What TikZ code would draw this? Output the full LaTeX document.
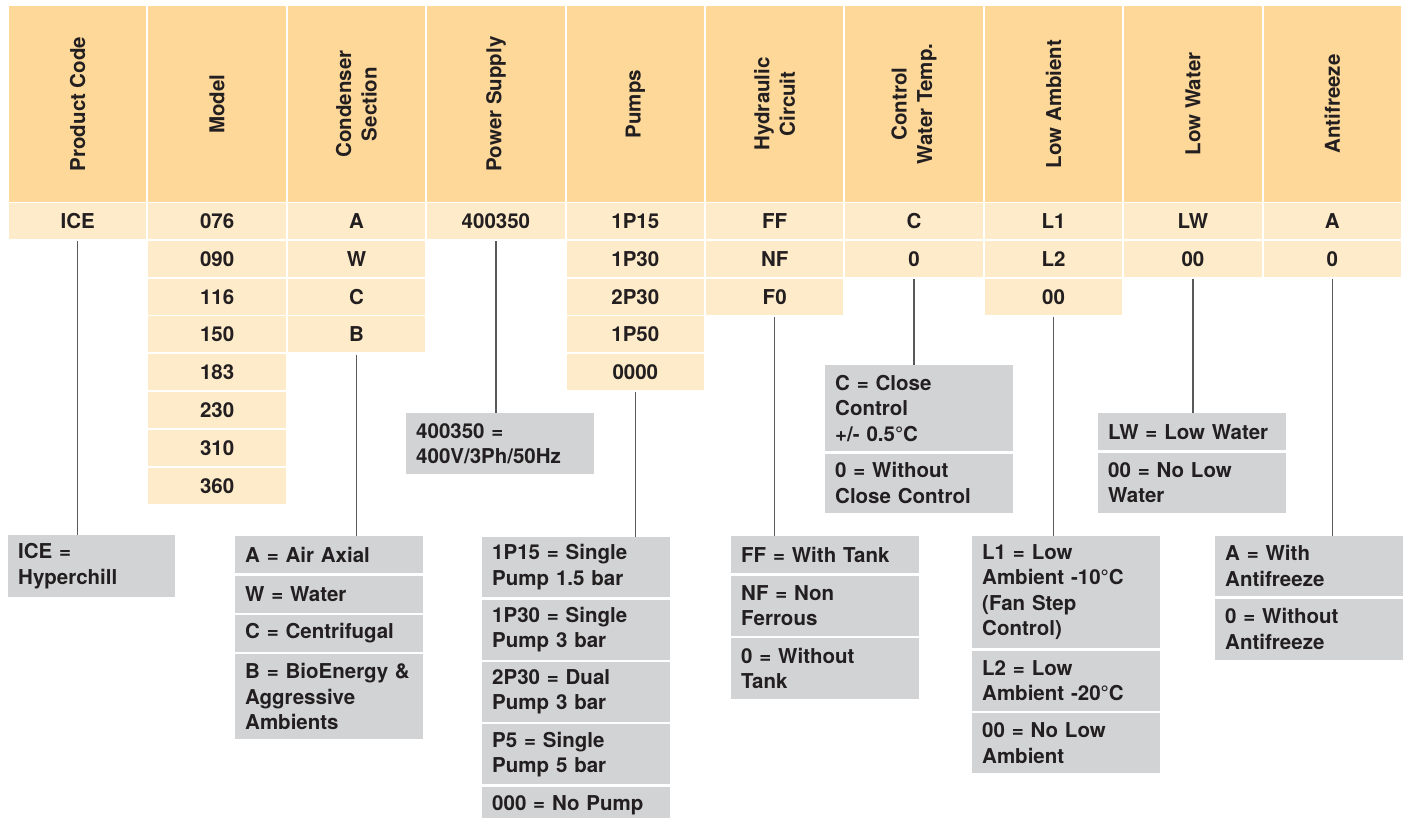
\documentclass[tikz,border=0pt]{standalone}
\usepackage{fontspec}
\setmainfont{TeX Gyre Heros}
\usepackage{xcolor}
\usetikzlibrary{positioning}
\definecolor{hdrorange}{HTML}{FDD899}
\definecolor{rowcream}{HTML}{FEEBC9}
\definecolor{keygray}{HTML}{D1D3D4}
\definecolor{inkdark}{HTML}{231F20}
\definecolor{linegray}{HTML}{58595B}
\newcommand{\keyfont}{\fontsize{20.5}{25.5}\selectfont\bfseries}

\begin{document}
\begin{tikzpicture}[x=1pt, y=-1pt,
  head/.style={fill=hdrorange, rotate=90, minimum width=196pt,
    minimum height=137.4pt, inner sep=0pt, align=center,
    font=\keyfont, text=inkdark},
  cell/.style={fill=rowcream, minimum width=137.4pt, minimum height=36pt,
    inner sep=0pt, text height=15pt, text depth=0pt,
    font=\keyfont, text=inkdark},
  key/.style={fill=keygray, minimum height=#1, text width=168pt,
    inner xsep=10pt, inner ysep=4pt, align=left,
    font=\keyfont, text=inkdark},
  key/.default=37pt,
  conn/.style={draw=linegray, line width=1.3pt},
  node distance=2pt
]
  \useasboundingbox (0,0) rectangle (1408,818);

  % Headers
  \node[head] (hpc) at (77.7, 104)   {Product Code};
  \node[head] (hmo) at (217.1, 104)  {Model};
  \node[head] (hcs) at (356.5, 104)  {Condenser\\Section};
  \node[head] (hps) at (495.9, 104)  {Power Supply};
  \node[head] (hpu) at (635.3, 104)  {Pumps};
  \node[head] (hhc) at (774.7, 104)  {Hydraulic\\Circuit};
  \node[head] (hcw) at (914.1, 104)  {Control\\Water Temp.};
  \node[head] (hla) at (1053.5, 104) {Low Ambient};
  \node[head] (hlw) at (1192.9, 104) {Low Water};
  \node[head] (haf) at (1332.3, 104) {Antifreeze};

  % Product code
  \node[cell] (pc1) at (77.7, 221) {ICE};

  % Model
  \node[cell] (mo1) at (217.1, 221)   {076};
  \node[cell] (mo2) at (217.1, 258.8) {090};
  \node[cell] (mo3) at (217.1, 296.6) {116};
  \node[cell] (mo4) at (217.1, 334.4) {150};
  \node[cell] (mo5) at (217.1, 372.2) {183};
  \node[cell] (mo6) at (217.1, 410)   {230};
  \node[cell] (mo7) at (217.1, 447.8) {310};
  \node[cell] (mo8) at (217.1, 485.6) {360};

  % Condenser section
  \node[cell] (cs1) at (356.5, 221)   {A};
  \node[cell] (cs2) at (356.5, 258.8) {W};
  \node[cell] (cs3) at (356.5, 296.6) {C};
  \node[cell] (cs4) at (356.5, 334.4) {B};

  % Power supply
  \node[cell] (ps1) at (495.9, 221) {400350};

  % Pumps
  \node[cell] (pu1) at (635.3, 221)   {1P15};
  \node[cell] (pu2) at (635.3, 258.8) {1P30};
  \node[cell] (pu3) at (635.3, 296.6) {2P30};
  \node[cell] (pu4) at (635.3, 334.4) {1P50};
  \node[cell] (pu5) at (635.3, 372.2) {0000};

  % Hydraulic circuit
  \node[cell] (hc1) at (774.7, 221)   {FF};
  \node[cell] (hc2) at (774.7, 258.8) {NF};
  \node[cell] (hc3) at (774.7, 296.6) {F0};

  % Control water temp.
  \node[cell] (cw1) at (914.1, 221)   {C};
  \node[cell] (cw2) at (914.1, 258.8) {0};

  % Low ambient
  \node[cell] (la1) at (1053.5, 221)   {L1};
  \node[cell] (la2) at (1053.5, 258.8) {L2};
  \node[cell] (la3) at (1053.5, 296.6) {00};

  % Low water
  \node[cell] (lw1) at (1192.9, 221)   {LW};
  \node[cell] (lw2) at (1192.9, 258.8) {00};

  % Antifreeze
  \node[cell] (af1) at (1332.3, 221)   {A};
  \node[cell] (af2) at (1332.3, 258.8) {0};

  % Key boxes
  \node[key=62pt, text width=147pt, anchor=north west] (pck1) at (8, 535)
    {ICE =\\Hyperchill};

  \node[key, anchor=north west] (csk1) at (235, 536) {A = Air Axial};
  \node[key, below=of csk1] (csk2) {W = Water};
  \node[key, below=of csk2] (csk3) {C = Centrifugal};
  \node[key=85pt, below=of csk3] (csk4)
    {B = BioEnergy \&\\Aggressive\\Ambients};

  \node[key=61pt, anchor=north west] (psk1) at (406, 413)
    {400350 =\\400V/3Ph/50Hz};

  \node[key=60pt, anchor=north west] (puk1) at (482, 537)
    {1P15 = Single\\Pump 1.5 bar};
  \node[key=60pt, below=of puk1] (puk2) {1P30 = Single\\Pump 3 bar};
  \node[key=60pt, below=of puk2] (puk3) {2P30 = Dual\\Pump 3 bar};
  \node[key=60pt, below=of puk3] (puk4) {P5 = Single\\Pump 5 bar};
  \node[key, below=of puk4] (puk5) {000 = No Pump};

  \node[key, anchor=north west] (hck1) at (731, 536) {FF = With Tank};
  \node[key=60pt, below=of hck1] (hck2) {NF = Non\\Ferrous};
  \node[key=61pt, below=of hck2] (hck3) {0 = Without\\Tank};

  \node[key=86pt, anchor=north west] (cwk1) at (825, 365)
    {C = Close\\Control\\+/- 0.5°C};
  \node[key=59pt, below=of cwk1] (cwk2) {0 = Without\\Close Control};

  \node[key=112pt, anchor=north west] (lak1) at (972, 536)
    {L1 = Low\\Ambient -10°C\\(Fan Step\\Control)};
  \node[key=60pt, below=of lak1] (lak2) {L2 = Low\\Ambient -20°C};
  \node[key=60pt, below=of lak2] (lak3) {00 = No Low\\Ambient};

  \node[key, anchor=north west] (lwk1) at (1098, 413) {LW = Low Water};
  \node[key=60pt, below=of lwk1] (lwk2) {00 = No Low\\Water};

  \node[key=60pt, anchor=north west] (afk1) at (1215, 536)
    {A = With\\Antifreeze};
  \node[key=61pt, below=of afk1] (afk2) {0 = Without\\Antifreeze};

  % Connectors
  \draw[conn] ([yshift=-2pt]pc1.south) -- (pc1.south |- pck1.north);
  \draw[conn] ([yshift=-2pt]cs4.south) -- (cs4.south |- csk1.north);
  \draw[conn] ([yshift=-2pt]ps1.south) -- (ps1.south |- psk1.north);
  \draw[conn] ([yshift=-2pt]pu5.south) -- (pu5.south |- puk1.north);
  \draw[conn] ([yshift=-2pt]hc3.south) -- (hc3.south |- hck1.north);
  \draw[conn] ([yshift=-2pt]cw2.south) -- (cw2.south |- cwk1.north);
  \draw[conn] ([yshift=-2pt]la3.south) -- (la3.south |- lak1.north);
  \draw[conn] ([yshift=-2pt]lw2.south) -- (lw2.south |- lwk1.north);
  \draw[conn] ([yshift=-2pt]af2.south) -- (af2.south |- afk1.north);
\end{tikzpicture}
\end{document}
